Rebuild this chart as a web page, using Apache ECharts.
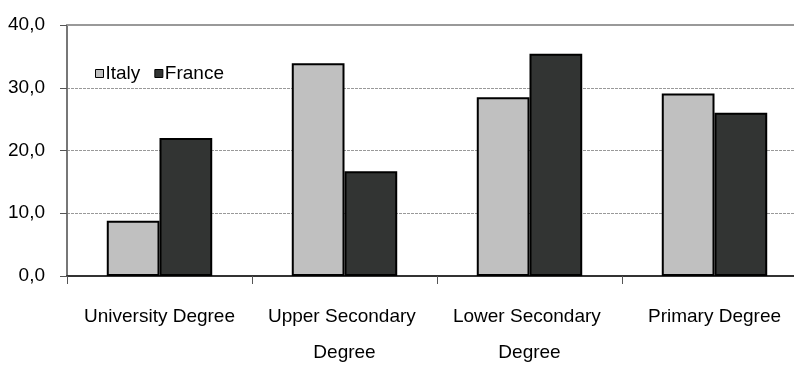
<!DOCTYPE html>
<html>
<head>
<meta charset="utf-8">
<script src="https://cdn.jsdelivr.net/npm/echarts@6/dist/echarts.min.js"></script>
<style>
  html, body { margin: 0; padding: 0; background: #fff; }
  #chart { width: 794px; height: 371px; }
</style>
</head>
<body>
<div id="chart"></div>
<script>
const categories = ['University Degree', 'Upper Secondary Degree', 'Lower Secondary Degree', 'Primary Degree'];
const italy = [8.8, 33.9, 28.5, 29.1];
const france = [22.0, 16.7, 35.4, 26.0];
const yTicks = [0, 10, 20, 30, 40];

const FONT = "'Liberation Sans', Arial, sans-serif";
const chart = echarts.init(document.getElementById('chart'));
chart.setOption({
  animation: false,
  backgroundColor: '#ffffff',
  legend: {
    left: 90,
    top: 59,
    itemWidth: 8,
    itemHeight: 8,
    itemGap: 14,
    icon: 'rect',
    textStyle: { fontFamily: FONT, fontSize: 19, color: '#000', padding: [0, 0, 0, -3] },
    data: [
      { name: 'Italy', itemStyle: { borderColor: '#000', borderWidth: 1 } },
      { name: 'France', itemStyle: { borderColor: '#000', borderWidth: 1 } }
    ]
  },
  grid: { left: 67, top: 25, width: 740, height: 251, containLabel: false, outerBoundsMode: 'none' },
  xAxis: {
    type: 'category',
    data: categories,
    axisLine: { lineStyle: { color: '#333', width: 2 } },
    axisTick: { show: true, length: 8, lineStyle: { color: '#555', width: 1 } },
    axisLabel: {
      interval: 0,
      margin: 23,
      fontFamily: FONT,
      fontSize: 19,
      color: '#000',
      lineHeight: 36,
      width: 170,
      overflow: 'break',
      align: 'center'
    }
  },
  yAxis: {
    type: 'value',
    min: yTicks[0],
    max: yTicks[yTicks.length - 1],
    interval: 10,
    axisLine: { show: true, lineStyle: { color: '#777', width: 2 } },
    axisTick: { show: true, length: 7, lineStyle: { color: '#555', width: 1 } },
    axisLabel: {
      margin: 22,
      fontFamily: FONT,
      fontSize: 19,
      color: '#000',
      formatter: v => v.toFixed(1).replace('.', ',')
    },
    splitLine: {
      show: true,
      lineStyle: { color: '#999', type: [3, 1], width: 1 }
    }
  },
  series: [
    {
      name: 'Italy',
      type: 'bar',
      data: italy,
      barGap: '0%',
      barCategoryGap: '43%',
      itemStyle: { color: '#c0c0c0', borderColor: '#000', borderWidth: 2 },
      markLine: {
        silent: true,
        symbol: 'none',
        label: { show: false },
        lineStyle: { color: '#999', type: 'solid', width: 2 },
        data: [{ yAxis: 40 }]
      }
    },
    {
      name: 'France',
      type: 'bar',
      data: france,
      itemStyle: { color: '#323433', borderColor: '#000', borderWidth: 2 }
    }
  ]
});
</script>
</body>
</html>
